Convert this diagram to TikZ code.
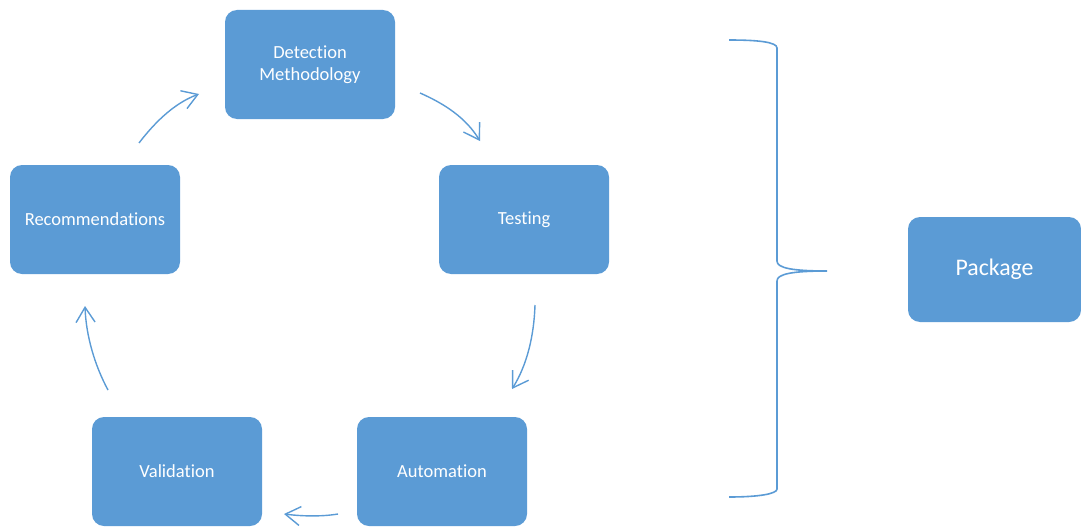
\documentclass[tikz,border=0pt]{standalone}
\usepackage{fontspec}
\setmainfont[Ligatures=NoCommon]{Carlito}
\usetikzlibrary{arrows.meta}
\definecolor{boxblue}{HTML}{5B9BD5}
\tikzset{
  box/.style={draw=none, fill=boxblue, rounded corners=12pt, minimum width=170pt, minimum height=109pt, text=white, font=\fontsize{18.5}{22}\selectfont, align=center, inner sep=0pt},
  flow/.style={draw=boxblue, line width=1.4pt, -{Straight Barb[length=15pt,width=19pt,line width=1.4pt]}},
  bracestyle/.style={draw=boxblue, line width=1.6pt}
}
\begin{document}
\begin{tikzpicture}[x=1pt,y=-1pt]
\useasboundingbox (0,0) rectangle (1081,527);
\node[box] (det) at (310,64.5) {Detection\\Methodology};
\node[box] (test) at (524,219.5) {Testing};
\node[box] (rec) at (95,219.5) {Recommendations};
\node[box] (val) at (177,471.5) {Validation};
\node[box] (auto) at (442,471.5) {Automation};
\node[box, minimum width=173pt, minimum height=105pt, font=\fontsize{23.8}{28}\selectfont] (pkg) at (994.5,269.5) {Package};
% free ends of the cycle arrows
\coordinate (a1s) at (139,143); \coordinate (a1e) at (199,94);
\coordinate (a2s) at (420,93);  \coordinate (a2e) at (480,141);
\coordinate (a3s) at (535,305); \coordinate (a3e) at (512,389);
\coordinate (a4s) at (338,514); \coordinate (a4e) at (284,514);
\coordinate (a5s) at (108,390); \coordinate (a5e) at (85,306);
\draw[flow] (a1s) .. controls (152,126) and (172,104) .. (a1e);
\draw[flow] (a2s) .. controls (445,104) and (466,118) .. (a2e);
\draw[flow] (a3s) .. controls (534,336) and (527,365) .. (a3e);
\draw[flow] (a4s) .. controls (320,517) and (300,516) .. (a4e);
\draw[flow] (a5s) .. controls (95,366) and (86,336) .. (a5e);
% brace
\coordinate (bt) at (729,40);
\coordinate (bm) at (827,271);
\coordinate (bb) at (729,497);
\draw[bracestyle] (bt) .. controls (758,40) and (777,42) .. (777,48) -- (777,261)
  .. controls (777,268) and (792,271) .. (bm)
  .. controls (792,271) and (777,274) .. (777,281) -- (777,489)
  .. controls (777,494) and (758,497) .. (bb);
\end{tikzpicture}
\end{document}
